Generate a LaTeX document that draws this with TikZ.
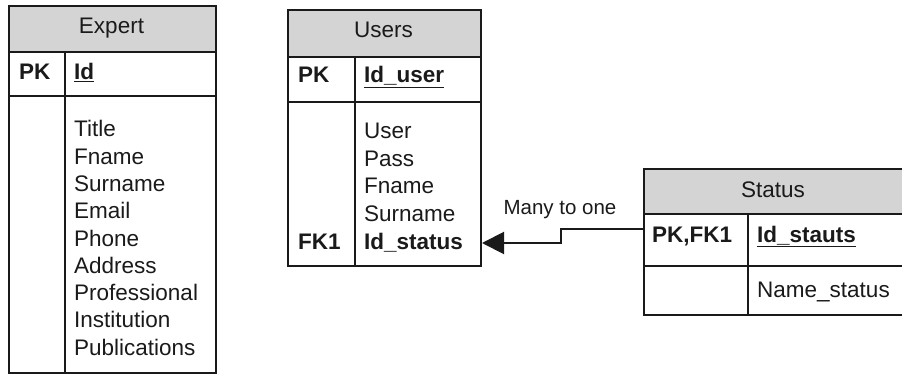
\documentclass[tikz,border=0pt]{standalone}
\usepackage{fontspec}
\setmainfont{Liberation Sans}
\usetikzlibrary{arrows.meta}
\definecolor{hdrgray}{HTML}{D4D4D4}
\definecolor{ink}{HTML}{1A1A1A}
\tikzset{
  box/.style={draw=ink, line width=2pt, rectangle, anchor=north west, inner sep=0pt},
  hdr/.style={box, fill=hdrgray},
  txt/.style={anchor=base west, inner sep=0pt, text=ink, font=\fontsize{22.5}{27}\selectfont},
  ctxt/.style={anchor=base, inner sep=0pt, text=ink, font=\fontsize{22.5}{27}\selectfont},
  btxt/.style={txt, font=\fontsize{22.5}{27}\selectfont\bfseries},
  lbl/.style={anchor=center, inner sep=0pt, text=ink, font=\fontsize{20.5}{24}\selectfont},
  conn/.style={draw=ink, line width=2pt, -{Triangle[length=22pt,width=22pt]}}
}
\newcommand{\ul}[1]{\underline{#1}}
\begin{document}
\begin{tikzpicture}[x=1pt,y=-1pt]
\useasboundingbox (0,0) rectangle (902,374);
\clip (0,0) rectangle (902,374);
% ---------- Expert ----------
\node[hdr, minimum width=207pt, minimum height=46pt] (eh) at (8,5) {};
\node[box, minimum width=207pt, minimum height=44pt] (epk) at (8,51) {};
\node[box, minimum width=207pt, minimum height=277pt] (eb) at (8,95) {};
\draw[draw=ink, line width=2pt] (65,51) coordinate (ed1) -- (65,372) coordinate (ed2);
\node[ctxt] (ehT) at (111.5,34) {Expert};
\node[btxt] (epkT) at (19,80) {PK};
\node[btxt] (eid) at (74,80) {\ul{Id}};
\node[txt] (e1) at (74,137) {Title};
\node[txt] (e2) at (74,164.25) {Fname};
\node[txt] (e3) at (74,191.5) {Surname};
\node[txt] (e4) at (74,218.75) {Email};
\node[txt] (e5) at (74,246) {Phone};
\node[txt] (e6) at (74,273.25) {Address};
\node[txt] (e7) at (74,300.5) {Professional};
\node[txt] (e8) at (74,327.75) {Institution};
\node[txt] (e9) at (74,355) {Publications};
% ---------- Users ----------
\node[hdr, minimum width=193pt, minimum height=47pt] (uh) at (287,9) {};
\node[box, minimum width=193pt, minimum height=45pt] (upk) at (287,56) {};
\node[box, minimum width=193pt, minimum height=164pt] (ub) at (287,101) {};
\draw[draw=ink, line width=2pt] (355,56) coordinate (ud1) -- (355,265) coordinate (ud2);
\node[ctxt] (uhT) at (383.5,38) {Users};
\node[btxt] (upkT) at (298,83) {PK};
\node[btxt] (uid) at (364,83) {\ul{Id\_user}};
\node[txt] (u1) at (364,139) {User};
\node[txt] (u2) at (364,166.5) {Pass};
\node[txt] (u3) at (364,194) {Fname};
\node[txt] (u4) at (364,221.5) {Surname};
\node[btxt] (u5) at (364,249) {Id\_status};
\node[btxt] (ufk) at (298,249) {FK1};
% ---------- Status ----------
\node[hdr, minimum width=260pt, minimum height=45pt] (sh) at (643,168) {};
\node[box, minimum width=260pt, minimum height=52pt] (spk) at (643,213) {};
\node[box, minimum width=260pt, minimum height=49pt] (sb) at (643,265) {};
\draw[draw=ink, line width=2pt] (748,213) coordinate (sd1) -- (748,314) coordinate (sd2);
\node[ctxt] (shT) at (773,197) {Status};
\node[btxt] (spkT) at (652,242) {PK,FK1};
\node[btxt] (sid) at (757,242) {\ul{Id\_stauts}};
\node[txt] (s1) at (757,297) {Name\_status};
% ---------- connector ----------
\coordinate (c1) at (561,229);
\coordinate (c2) at (561,243);
\path[conn] (spk.west |- c1) -- (c1) -- (c2) -- (ub.east |- c2);
\node[lbl] (many) at (560,210) {Many to one};
\end{tikzpicture}
\end{document}
